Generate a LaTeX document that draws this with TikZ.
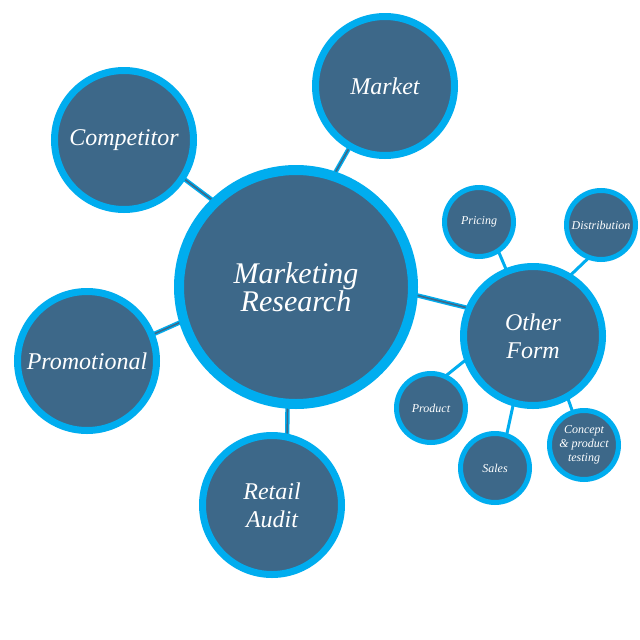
\documentclass[tikz,border=0pt]{standalone}
\usepackage{fontspec}
\setmainfont{Liberation Serif}
\usetikzlibrary{backgrounds}
\definecolor{ringblue}{HTML}{00ADEF}
\definecolor{fillblue}{HTML}{3D6889}
\begin{document}
\begin{tikzpicture}[x=1pt,y=-1pt,
  bubble/.style={circle, fill=fillblue, draw=ringblue, text=white, inner sep=0pt, align=center},
  bigbub/.style={bubble, minimum size=234pt, line width=10pt, font=\itshape\fontsize{30}{28}\selectfont},
  midbub/.style={bubble, minimum size=139pt, line width=7pt, font=\itshape\fontsize{24}{28}\selectfont},
  smallbub/.style={bubble, minimum size=69pt, line width=5pt, font=\itshape\fontsize{12}{14}\selectfont},
  link/.style={draw=ringblue, double=fillblue, double distance=1.6pt, line width=1.4pt, shorten <=-4pt, shorten >=-4pt},
  thinlink/.style={draw=ringblue, line width=3pt, shorten <=-3pt, shorten >=-3pt}]
\useasboundingbox (0,0) rectangle (640,640);

\node[bigbub] (mr) at (296,287) {Marketing\\Research};
\node[midbub] (market) at (385,86) {Market};
\node[midbub] (comp) at (124,140) {Competitor};
\node[midbub] (promo) at (87,361) {Promotional};
\node[midbub] (retail) at (272,505) {Retail\\Audit};
\node[midbub] (other) at (533,336) {Other\\Form};
\node[smallbub] (pricing) at (479,222) {Pricing};
\node[smallbub] (distrib) at (601,225) {Distribution};
\node[smallbub] (product) at (431,408) {Product};
\node[smallbub] (sales) at (495,468) {Sales};
\node[smallbub] (concept) at (584,445) {Concept\\\&\ product\\testing};

\begin{pgfonlayer}{background}
\fill[white] (0,0) rectangle (640,640);
\draw[link] (comp.-33.7) -- (mr.134.4);
\draw[link] (market.-120) -- (mr.71);
\draw[link] (promo.22.4) -- (mr.-163.6);
\draw[link] (retail.78) -- (mr.-94);
\draw[link] (mr.-4.6) -- (other.157.6);
\draw[thinlink] (pricing.-57.5) -- (other.112);
\draw[thinlink] (distrib.-112) -- (other.58);
\draw[thinlink] (product.64) -- (other.200);
\draw[thinlink] (sales.71.6) -- (other.-106.5);
\draw[thinlink] (concept.109) -- (other.-61);
\end{pgfonlayer}
\end{tikzpicture}
\end{document}
